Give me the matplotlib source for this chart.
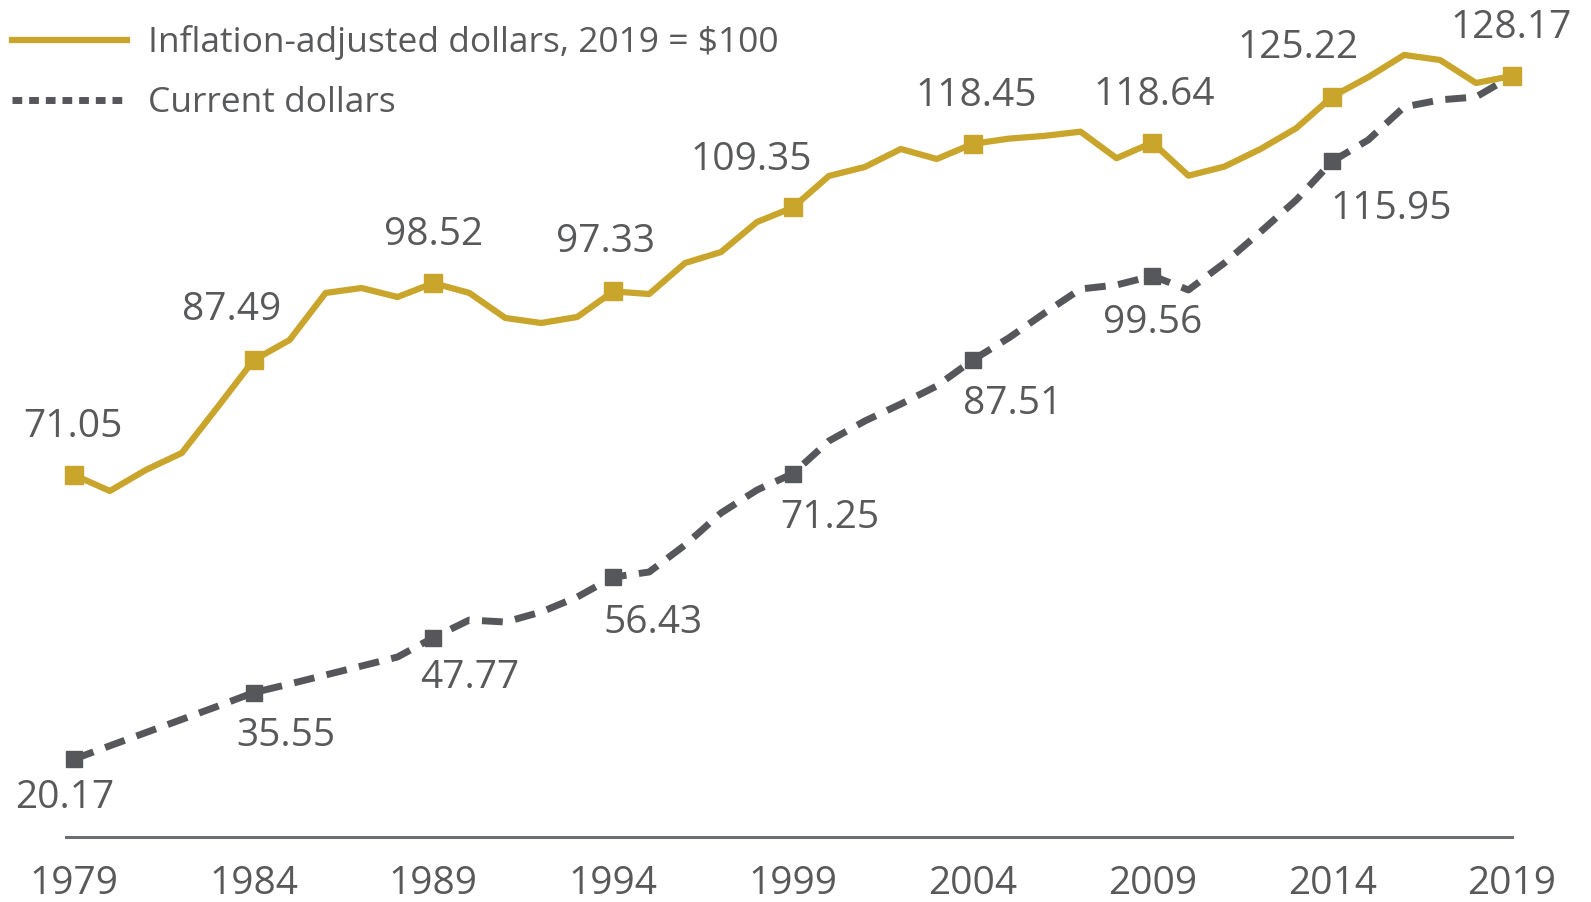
import numpy as np
import matplotlib
matplotlib.use("Agg")
import matplotlib.pyplot as plt
from matplotlib import font_manager
from matplotlib.lines import Line2D

years = list(range(1979, 2020))

# inflation-adjusted dollars, 2019 = $100
adjusted = [71.05, 68.76, 71.77, 74.20, 80.79, 87.49, 90.38, 97.11, 97.82, 96.53,
            98.52, 97.11, 93.53, 92.81, 93.67, 97.33, 96.96, 101.40, 102.97, 107.27,
            109.35, 113.86, 115.15, 117.72, 116.29, 118.45, 119.20, 119.60, 120.20, 116.40,
            118.64, 113.90, 115.20, 117.70, 120.70, 125.22, 128.00, 131.18, 130.46, 127.17,
            128.17]

# current dollars
current = [20.17, 23.26, 26.31, 29.35, 32.40, 35.55, 37.53, 39.61, 41.68, 43.76,
           47.77, 50.29, 50.00, 51.44, 53.58, 56.43, 57.16, 61.03, 65.61, 68.90,
           71.25, 75.92, 78.78, 81.21, 83.79, 87.51, 90.66, 94.24, 97.68, 98.25,
           99.56, 97.54, 101.40, 105.84, 110.42, 115.95, 119.01, 123.74, 124.75, 125.17,
           128.17]

marked_years = [1979, 1984, 1989, 1994, 1999, 2004, 2009, 2014, 2019]
current_label_years = [1979, 1984, 1989, 1994, 1999, 2004, 2009, 2014]
tick_years = [1979, 1984, 1989, 1994, 1999, 2004, 2009, 2014, 2019]

legend_labels = ["Inflation-adjusted dollars, 2019 = $100", "Current dollars"]

# label offsets in pixels (dx, dy) relative to the marker
adj_offsets = [(-1, 48), (-22, 50), (0, 48), (-8, 49), (-42, 47), (4, 48), (2, 48), (-34, 49), (-1, 48)]
cur_offsets = [(-9, -39), (32, -43), (36, -40), (40, -46), (37, -44), (40, -44), (0, -47), (59, -48)]

GOLD = "#c9a52b"
GREY = "#55575a"
TEXT = "#58595b"


def pick_font(names):
    for n in names:
        try:
            font_manager.findfont(n, fallback_to_default=False)
            return n
        except Exception:
            pass
    return "DejaVu Sans"


main_font = pick_font(["Open Sans", "Noto Sans", "DejaVu Sans"])

# the low end of the chart is squeezed below 47
BREAK, K = 47.0, 0.62


def fwd(y):
    y = np.asarray(y, dtype=float)
    return np.where(y < BREAK, BREAK + (y - BREAK) * K, y)


def inv(y):
    y = np.asarray(y, dtype=float)
    return np.where(y < BREAK, BREAK + (y - BREAK) / K, y)


fig = plt.figure(figsize=(15.91, 9.02), dpi=100)
ax = fig.add_axes([66 / 1591, 65 / 902, (1512 - 66) / 1591, 837 / 902])
ax.set_yscale("function", functions=(fwd, inv))

yr = np.array(years)
adj = np.array(adjusted)
cur = np.array(current)

ax.plot(yr, cur, color=GREY, lw=5, dashes=(3.0, 1.8), solid_capstyle="butt",
        dash_capstyle="butt", zorder=2, clip_on=False)
ax.plot(yr, adj, color=GOLD, lw=4.5, zorder=3, clip_on=False)

mi = [years.index(y) for y in marked_years]
ax.plot(yr[mi], cur[mi], ls="none", marker="s", ms=11, color=GREY, zorder=2.5, clip_on=False)
ax.plot(yr[mi], adj[mi], ls="none", marker="s", ms=12.5, color=GOLD, zorder=4, clip_on=False)

for y, (dx, dy) in zip(marked_years, adj_offsets):
    v = adjusted[years.index(y)]
    ax.annotate(f"{v:.2f}", (y, v), xytext=(dx, dy), textcoords="offset pixels",
                ha="center", va="center", fontsize=28, color=TEXT, family=main_font)

for y, (dx, dy) in zip(current_label_years, cur_offsets):
    v = current[years.index(y)]
    ax.annotate(f"{v:.2f}", (y, v), xytext=(dx, dy), textcoords="offset pixels",
                ha="center", va="center", fontsize=28, color=TEXT, family=main_font)

ax.set_xlim(1978.78, 2019)
ax.set_ylim(2.2, 139.05)

for s in ["top", "right", "left"]:
    ax.spines[s].set_visible(False)
ax.spines["bottom"].set_color("#6d6e71")
ax.spines["bottom"].set_linewidth(2.2)
ax.set_yticks([])
ax.yaxis.set_minor_locator(matplotlib.ticker.NullLocator())
ax.set_xticks(tick_years)
ax.set_xticklabels([str(t) for t in tick_years], fontsize=28, color=TEXT, family=main_font)
ax.tick_params(axis="x", length=0, pad=20)

handles = [Line2D([], [], color=GOLD, lw=4.5),
           Line2D([], [], color=GREY, lw=5, dashes=(1.4, 1.0))]
fig.legend(handles, legend_labels, loc="upper left", bbox_to_anchor=(0.003, 0.98),
           frameon=False, handlelength=3.25, handletextpad=0.6, labelspacing=0.74,
           borderaxespad=0.0, borderpad=0.2, prop={"family": main_font, "size": 25.5},
           labelcolor=TEXT)

fig.savefig("out.png", dpi=100)
